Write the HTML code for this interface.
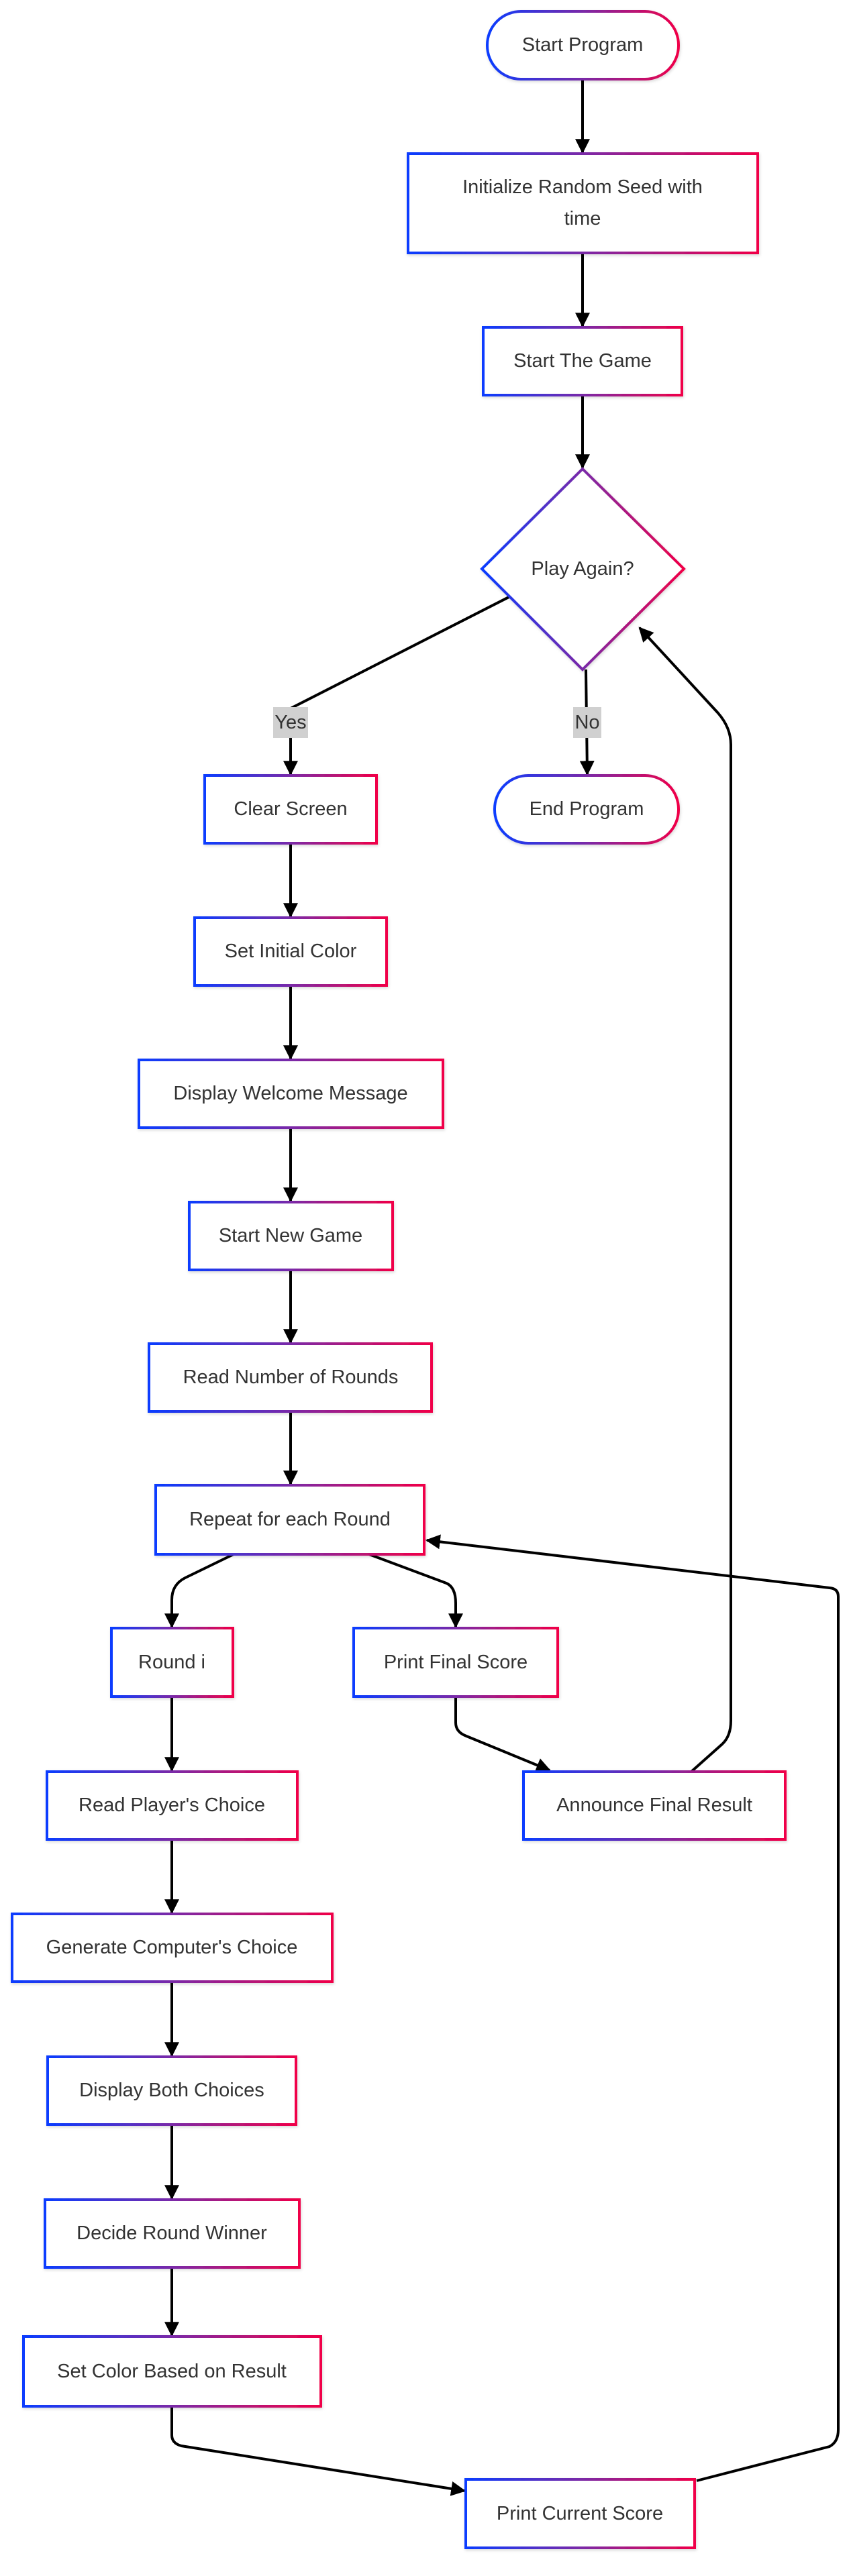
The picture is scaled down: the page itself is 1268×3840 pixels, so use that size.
<!DOCTYPE html>
<html><head><meta charset="utf-8"><style>
html,body{margin:0;padding:0;background:#fff;}
svg{display:block;}
text{font-family:"Liberation Sans",Arial,sans-serif;font-size:29px;fill:#333;text-anchor:middle;dominant-baseline:central;}
.n{fill:#fff;stroke:url(#g);stroke-width:4;filter:url(#sh);}
.e{fill:none;stroke:#000;stroke-width:4;}
</style></head><body>
<svg width="1268" height="3840" viewBox="0 0 1268 3840" xmlns="http://www.w3.org/2000/svg">
<defs>
<linearGradient id="g" x1="0" y1="0" x2="1" y2="0"><stop offset="0" stop-color="#0a3cff"/><stop offset="0.5" stop-color="#7a2aa8"/><stop offset="1" stop-color="#f00048"/></linearGradient>
<filter id="sh" x="-10%" y="-10%" width="120%" height="130%"><feDropShadow dx="1" dy="2" stdDeviation="2" flood-color="#000" flood-opacity="0.15"/></filter>
<marker id="a" markerUnits="userSpaceOnUse" viewBox="0 0 20 20" refX="18" refY="10" markerWidth="22" markerHeight="22" orient="auto"><path d="M0,0 L20,10 L0,20 z" fill="#000"/></marker>
</defs>

<g class="e" marker-end="url(#a)">
<path d="M868,118 L868,227"/>
<path d="M868,377 L868,486"/>
<path d="M868,589 L868,697"/>
<path d="M770,884 L433,1056 L433,1154"/>
<path d="M873,998 L875,1154"/>
<path d="M433,1257 L433,1366"/>
<path d="M433,1469 L433,1578"/>
<path d="M433,1681 L433,1790"/>
<path d="M433,1893 L433,2001"/>
<path d="M433,2104 L433,2212"/>
<path d="M348,2317 L276,2352 Q256,2362 256,2385 L256,2425"/>
<path d="M550,2317 L665,2360 Q679,2366 679,2390 L679,2425"/>
<path d="M679,2529 L679,2568 Q679,2582 695,2588 L819,2639"/>
<path d="M256,2529 L256,2639"/>
<path d="M256,2742 L256,2851"/>
<path d="M256,2954 L256,3064"/>
<path d="M256,3167 L256,3277"/>
<path d="M256,3380 L256,3481"/>
<path d="M256,3587 L256,3630 Q256,3642 270,3646 L692,3713"/>
<path d="M1038,3698 L1236,3647 Q1249,3640 1249,3622 L1249,2380 Q1249,2368 1236,2367 L636,2296"/>
<path d="M1030,2641 L1076,2600 Q1089,2588 1089,2565 L1089,1110 Q1089,1085 1070,1063 L953,936"/>
</g>

<rect x="407" y="1054" width="52" height="46" fill="#d0d0d0"/>
<text x="433" y="1077">Yes</text>
<rect x="854" y="1054" width="42" height="46" fill="#d0d0d0"/>
<text x="875" y="1077">No</text>

<rect class="n" x="726" y="17" width="285" height="101" rx="50"/>
<text x="868" y="67">Start Program</text>

<rect class="n" x="608" y="229" width="521" height="148"/>
<text x="868" y="279">Initialize Random Seed with</text>
<text x="868" y="326">time</text>

<rect class="n" x="720" y="488" width="296" height="101"/>
<text x="868" y="538">Start The Game</text>

<polygon class="n" points="868,699 1019,848 868,998 718,848"/>
<text x="868" y="848">Play Again?</text>

<rect class="n" x="305" y="1156" width="256" height="101"/>
<text x="433" y="1206">Clear Screen</text>

<rect class="n" x="737" y="1156" width="274" height="101" rx="50"/>
<text x="874" y="1206">End Program</text>

<rect class="n" x="290" y="1368" width="286" height="101"/>
<text x="433" y="1418">Set Initial Color</text>

<rect class="n" x="207" y="1580" width="453" height="101"/>
<text x="433" y="1630">Display Welcome Message</text>

<rect class="n" x="282" y="1792" width="303" height="101"/>
<text x="433" y="1842">Start New Game</text>

<rect class="n" x="222" y="2003" width="421" height="101"/>
<text x="433" y="2053">Read Number of Rounds</text>

<rect class="n" x="232" y="2214" width="400" height="103"/>
<text x="432" y="2265">Repeat for each Round</text>

<rect class="n" x="166" y="2427" width="181" height="102"/>
<text x="256" y="2478">Round i</text>

<rect class="n" x="527" y="2427" width="304" height="102"/>
<text x="679" y="2478">Print Final Score</text>

<rect class="n" x="70" y="2641" width="373" height="101"/>
<text x="256" y="2691">Read Player's Choice</text>

<rect class="n" x="780" y="2641" width="390" height="101"/>
<text x="975" y="2691">Announce Final Result</text>

<rect class="n" x="18" y="2853" width="477" height="101"/>
<text x="256" y="2903">Generate Computer's Choice</text>

<rect class="n" x="71" y="3066" width="370" height="101"/>
<text x="256" y="3116">Display Both Choices</text>

<rect class="n" x="67" y="3279" width="379" height="101"/>
<text x="256" y="3329">Decide Round Winner</text>

<rect class="n" x="35" y="3483" width="443" height="104"/>
<text x="256" y="3535">Set Color Based on Result</text>

<rect class="n" x="694" y="3696" width="341" height="102"/>
<text x="864" y="3747">Print Current Score</text>
</svg>
</body></html>
